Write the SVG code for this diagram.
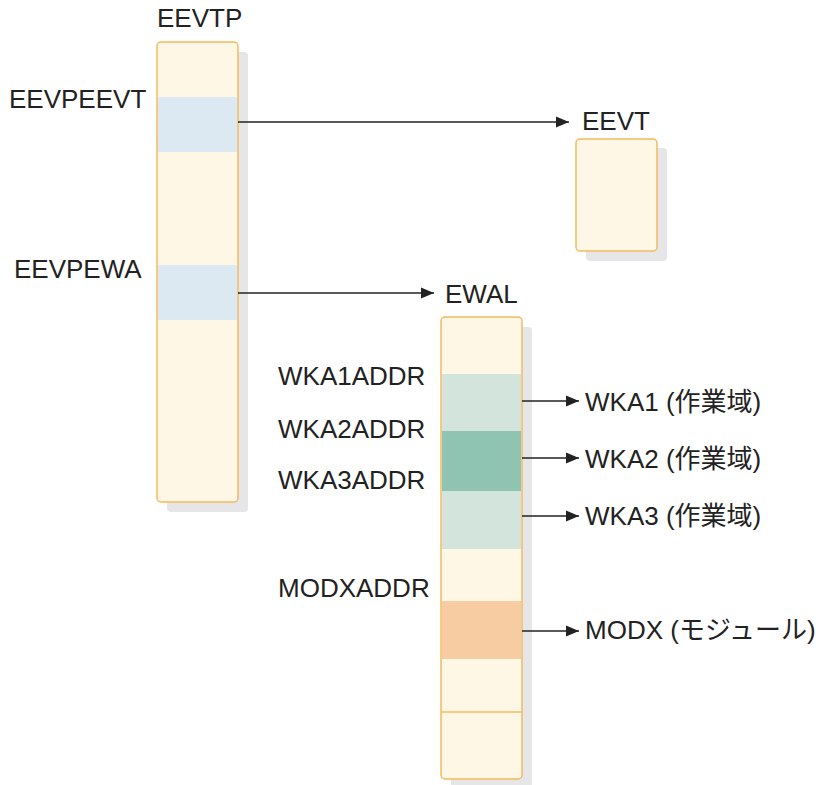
<svg xmlns="http://www.w3.org/2000/svg" width="826" height="785" viewBox="0 0 826 785">
<style>
.t{font-family:"Liberation Sans","Noto Sans CJK JP",Arial,sans-serif;font-size:26px;fill:#222}
.box{fill:#fef7e5;stroke:#f2bb60;stroke-width:1.5}
.sh{fill:#e6e6e8}
.blue{fill:#dce9f3}
.lg{fill:#d3e4dc}
.dg{fill:#8fc3b2}
.or{fill:#f7cca3}
.c{stroke:#222;stroke-width:1.3;fill:none}
</style>
<defs>
<marker id="ah" markerWidth="13" markerHeight="12" refX="13" refY="6" orient="auto" markerUnits="userSpaceOnUse">
<path d="M0,0.5 L13,6 L0,11.5 Z" fill="#222"/>
</marker>
</defs>
<g id="EEVTP">
<rect class="sh" x="167" y="52" width="81" height="460" rx="4"/>
<rect class="box" x="157" y="42" width="81" height="460" rx="4"/>
<rect class="blue" x="158" y="97" width="79" height="55"/>
<rect class="blue" x="158" y="265" width="79" height="55"/>
<text class="t" x="157" y="27">EEVTP</text>
<text class="t" x="9" y="108">EEVPEEVT</text>
<text class="t" x="14" y="278">EEVPEWA</text>
</g>
<g id="EEVT">
<rect class="sh" x="586" y="148" width="81" height="113" rx="4"/>
<rect class="box" x="576" y="139" width="81" height="112" rx="4"/>
<text class="t" x="582" y="130">EEVT</text>
</g>
<g id="EWAL">
<rect class="sh" x="451" y="327" width="81" height="460" rx="4"/>
<rect class="box" x="441" y="317" width="81" height="462" rx="4"/>
<rect class="lg" x="442" y="374" width="79" height="57"/>
<rect class="dg" x="442" y="431" width="79" height="60"/>
<rect class="lg" x="442" y="491" width="79" height="58"/>
<rect class="or" x="442" y="601" width="79" height="58"/>
<line x1="441" y1="712" x2="522" y2="712" stroke="#f2bb60" stroke-width="1.5"/>
<text class="t" x="445" y="303">EWAL</text>
<text class="t" x="278" y="385">WKA1ADDR</text>
<text class="t" x="278" y="438">WKA2ADDR</text>
<text class="t" x="278" y="489">WKA3ADDR</text>
<text class="t" x="278" y="597">MODXADDR</text>
</g>
<g id="WKA1"><text class="t" x="585" y="411">WKA1 (作業域)</text></g>
<g id="WKA2"><text class="t" x="585" y="468">WKA2 (作業域)</text></g>
<g id="WKA3"><text class="t" x="585" y="525">WKA3 (作業域)</text></g>
<g id="MODX"><text class="t" x="585" y="639">MODX (モジュール)</text></g>
<g id="connectors">
<line class="c" x1="238" y1="122" x2="569" y2="122" marker-end="url(#ah)"/>
<line class="c" x1="238" y1="293" x2="434" y2="293" marker-end="url(#ah)"/>
<line class="c" x1="522" y1="401" x2="579" y2="401" marker-end="url(#ah)"/>
<line class="c" x1="522" y1="458" x2="579" y2="458" marker-end="url(#ah)"/>
<line class="c" x1="522" y1="516" x2="579" y2="516" marker-end="url(#ah)"/>
<line class="c" x1="522" y1="631" x2="579" y2="631" marker-end="url(#ah)"/>
</g>
</svg>
